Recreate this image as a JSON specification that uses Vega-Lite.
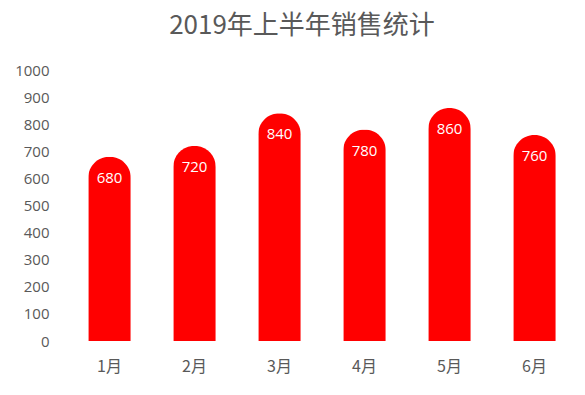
{
  "$schema": "https://vega.github.io/schema/vega-lite/v6.json",
  "autosize": "none",
  "width": 510,
  "height": 271,
  "padding": {"left": 67, "top": 70, "right": 8, "bottom": 54},
  "background": "white",
  "config": {"view": {"stroke": null}},
  "title": {
    "text": "2019年上半年销售统计",
    "font": "Noto Sans CJK SC",
    "fontSize": 26,
    "fontWeight": "normal",
    "color": "#595959",
    "anchor": "middle",
    "dx": -20,
    "offset": 24
  },
  "data": {
    "values": [
      {"month": "1月", "sales": 680},
      {"month": "2月", "sales": 720},
      {"month": "3月", "sales": 840},
      {"month": "4月", "sales": 780},
      {"month": "5月", "sales": 860},
      {"month": "6月", "sales": 760}
    ]
  },
  "encoding": {
    "x": {
      "field": "month",
      "type": "nominal",
      "sort": null,
      "scale": {"paddingInner": 0.5, "paddingOuter": 0.25},
      "axis": {
        "title": null,
        "labelAngle": 0,
        "domain": false,
        "ticks": false,
        "labelPadding": 17,
        "labelFont": "Noto Sans CJK SC",
        "labelFontSize": 16,
        "labelColor": "#595959"
      }
    },
    "y": {
      "field": "sales",
      "type": "quantitative",
      "scale": {"domain": [0, 1000]},
      "axis": {
        "title": null,
        "values": [0, 100, 200, 300, 400, 500, 600, 700, 800, 900, 1000],
        "format": "d",
        "domain": false,
        "ticks": false,
        "grid": false,
        "labelPadding": 18,
        "labelFont": "Open Sans",
        "labelFontSize": 15,
        "labelColor": "#595959"
      }
    }
  },
  "layer": [
    {
      "mark": {"type": "bar", "color": "#FF0000", "cornerRadiusTopLeft": 21, "cornerRadiusTopRight": 21}
    },
    {
      "mark": {"type": "text", "color": "white", "font": "Open Sans", "fontSize": 15, "baseline": "middle", "dy": 21},
      "encoding": {"text": {"field": "sales", "type": "quantitative"}}
    }
  ]
}
